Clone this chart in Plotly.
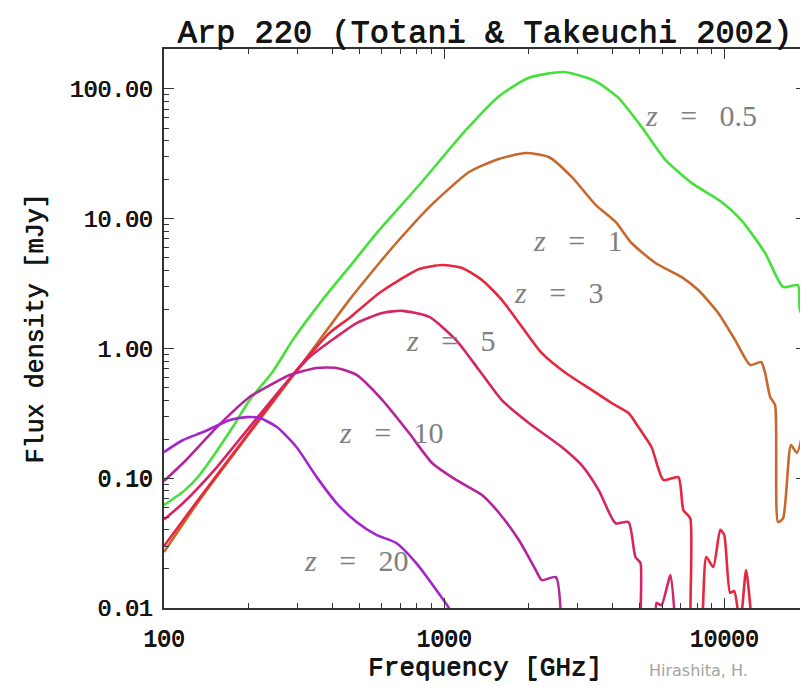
import math
import plotly.graph_objects as go

# ---- data (frequency in GHz, flux density in mJy) ----
z05_freq = [100, 118.8, 134, 176, 202, 244, 288, 368, 459, 587, 815, 1197, 1571, 2006, 2672,
            3280, 3565, 4200, 5070, 6170, 7640, 9760, 11490, 13990, 16220, 18330, 18620, 19590]
z05_flux = [0.062, 0.081, 0.106, 0.248, 0.40, 0.66, 1.16, 2.37, 4.25, 8.2, 18.2, 48.3, 88, 122, 135,
            121, 111, 85, 51, 28.4, 18.9, 13.5, 9.8, 5.45, 2.98, 3.08, 1.98, 1.6]

z1_freq = [100, 134, 202, 305, 459, 587, 675, 885, 1228, 1531, 1958, 2365, 2855, 3476, 4096, 4667,
           5680, 7030, 8075, 9520, 10940, 12380, 13550, 14000, 14590, 15190, 15560, 16220, 17310,
           18180, 19590]
z1_flux = [0.027, 0.068, 0.223, 0.72, 2.37, 4.56, 6.5, 12.3, 22.9, 28.4, 32.1, 29.9, 21.0, 12.8, 9.44,
           6.5, 4.56, 3.56, 2.82, 1.88, 1.16, 0.746, 0.787, 0.647, 0.423, 0.367, 0.046, 0.049, 0.180,
           0.157, 0.307]

z3_freq = [100, 134, 202, 288, 390, 459, 587, 692, 815, 984, 1159, 1365, 1607, 1895, 2233, 2718,
           3363, 3963, 4553, 4940, 5500, 6065, 6860, 7145, 7565, 7690, 8150, 8630, 9140, 9680,
           10000, 10500, 10860, 11400, 11970, 12580]
z3_flux = [0.030, 0.0705, 0.227, 0.625, 1.32, 1.72, 2.68, 3.37, 4.10, 4.40, 4.17, 3.37, 2.37, 1.47,
           0.92, 0.647, 0.479, 0.380, 0.318, 0.248, 0.174, 0.097, 0.102, 0.057, 0.049, 0.005, 0.005,
           0.0247, 0.0207, 0.040, 0.0366, 0.0131, 0.0135, 0.0074, 0.0196, 0.007]

z5_freq = [100, 117, 154.5, 202, 265, 331, 413, 487, 602, 709, 885, 1104, 1333, 1607, 2006, 2630,
           3097, 3563, 4094, 4553, 4820, 5025, 5110, 5640, 5730, 5970, 6430, 6750]
z5_flux = [0.048, 0.0644, 0.122, 0.248, 0.505, 0.859, 1.23, 1.57, 1.88, 1.95, 1.75, 1.16, 0.682, 0.40,
           0.267, 0.174, 0.126, 0.081, 0.045, 0.046, 0.0247, 0.0222, 0.005, 0.005, 0.0109, 0.0105,
           0.0179, 0.005]

z10_freq = [100, 117, 154.5, 202, 233, 281, 351, 413, 487, 602, 750, 906, 1104, 1365, 1571, 1849,
            2125, 2233, 2505, 2630]
z10_flux = [0.0953, 0.131, 0.248, 0.423, 0.505, 0.625, 0.708, 0.708, 0.625, 0.40, 0.223, 0.131, 0.097,
            0.0743, 0.054, 0.0334, 0.0196, 0.0164, 0.0173, 0.005]

z20_freq = [100, 117, 138, 172, 197, 220, 253, 297, 351, 413, 487, 573, 675, 795, 937, 1060, 1130]
z20_flux = [0.159, 0.197, 0.227, 0.281, 0.296, 0.291, 0.248, 0.174, 0.102, 0.0644, 0.046, 0.0366,
            0.0317, 0.0222, 0.0138, 0.0093, 0.005]

series_names = ["z = 0.5", "z = 1", "z = 3", "z = 5", "z = 10", "z = 20"]
series_freq = [z05_freq, z1_freq, z3_freq, z5_freq, z10_freq, z20_freq]
series_flux = [z05_flux, z1_flux, z3_flux, z5_flux, z10_flux, z20_flux]
series_colors = ["#45e03a", "#c9682c", "#e62740", "#d42565", "#b52499", "#a424cf"]

# curve label positions (GHz, mJy) - left edge of the label
label_text = ["0.5", "1", "3", "5", "10", "20"]
label_freq = [5150, 2040, 1745, 721, 413, 310]
label_flux = [63, 6.85, 2.72, 1.16, 0.227, 0.0234]

x_tickvals = [100, 1000, 10000]
x_ticktext = ["100", "1000", "10000"]
y_tickvals = [0.01, 0.1, 1, 10, 100]
y_ticktext = ["0.01", "0.10", "1.00", "10.00", "100.00"]

MONO = "Liberation Mono"
THICK = "0.6px 0px 0px #151515, 0px 0.4px 0px #151515"


def mono(size):
    return dict(family=MONO, size=size, color="#151515", shadow=THICK)


fig = go.Figure()
for name, fx, fy, col in zip(series_names, series_freq, series_flux, series_colors):
    fig.add_trace(go.Scatter(x=fx, y=fy, mode="lines", name=name,
                             line=dict(color=col, width=2.6, shape="spline", smoothing=0.6),
                             showlegend=False))

nb = "\u00a0\u00a0\u00a0"
for t, lf, ly in zip(label_text, label_freq, label_flux):
    fig.add_annotation(x=math.log10(lf), y=math.log10(ly), xref="x", yref="y", showarrow=False,
                       text="<i>z</i>" + nb + "=" + nb + t, xanchor="left", yanchor="middle",
                       font=dict(family="Liberation Serif", size=30, color="#808080"))

# page body has an 8px offset: figure spans 8..808 x 8..686
fig.add_annotation(x=(700 - 164) / 644, y=-(670 - 608) / 559, xref="paper", yref="paper",
                   showarrow=False, text="Hirashita, H.", xanchor="center", yanchor="middle",
                   font=dict(family="DejaVu Sans", size=16, color="#a4a4a4"))

axis_common = dict(type="log", showgrid=False, zeroline=False, showline=True, linecolor="#333",
                   linewidth=1.5, mirror="ticks", ticks="inside", ticklen=10, tickwidth=1.3,
                   tickcolor="#333",
                   tickfont=mono(23),
                   minor=dict(ticks="inside", ticklen=5, tickwidth=1.2, tickcolor="#333",
                              dtick="D1", showgrid=False))

fig.update_layout(
    width=800, height=678,
    margin=dict(l=156, r=0, t=41, b=78),
    paper_bgcolor="white", plot_bgcolor="white",
    title=dict(text="Arp 220 (Totani & Takeuchi 2002)", x=0.596, xanchor="center",
               y=0.966, yanchor="middle", font=mono(32)),
    xaxis=dict(range=[2, 4.292], tickvals=x_tickvals, ticktext=x_ticktext, ticklabelstandoff=9,
               title=dict(text="Frequency [GHz]", font=mono(26), standoff=4),
               **axis_common),
    yaxis=dict(range=[-2, 2.308], tickvals=y_tickvals, ticktext=y_ticktext, ticklabelstandoff=5,
               title=dict(text="Flux density [mJy]", font=mono(25), standoff=19),
               **axis_common),
)

fig.write_html("out.html")
